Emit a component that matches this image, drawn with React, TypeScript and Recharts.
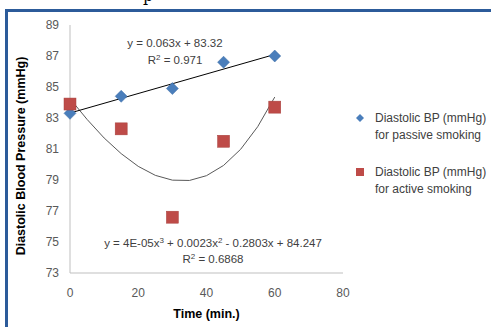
import React from 'react'
import {
  ScatterChart, Scatter, XAxis, YAxis, Label,
} from 'recharts'

const xTicks = [0, 20, 40, 60, 80]
const yTicks = [73, 75, 77, 79, 81, 83, 85, 87, 89]

const passive = [
  { x: 0, y: 83.3 },
  { x: 15, y: 84.4 },
  { x: 30, y: 84.9 },
  { x: 45, y: 86.6 },
  { x: 60, y: 87.0 },
]

const active = [
  { x: 0, y: 83.9 },
  { x: 15, y: 82.3 },
  { x: 30, y: 76.6 },
  { x: 45, y: 81.5 },
  { x: 60, y: 83.7 },
]

// trendlines
const linearTrend = [
  { x: 0, y: 83.32 },
  { x: 60, y: 87.1 },
]

const cubicTrend = [
  { x: 0, y: 84.25 }, { x: 5, y: 82.91 }, { x: 10, y: 81.71 }, { x: 15, y: 80.7 },
  { x: 20, y: 79.88 }, { x: 25, y: 79.3 }, { x: 30, y: 78.99 }, { x: 35, y: 78.97 },
  { x: 40, y: 79.28 }, { x: 45, y: 79.94 }, { x: 50, y: 80.98 }, { x: 55, y: 82.44 },
  { x: 60, y: 84.35 },
]

const BLUE = '#4a7ebb'
const RED = '#be4b48'
const FONT = '"Liberation Sans", Arial, sans-serif'

function Diamond({ cx, cy }: any) {
  const r = 6
  return <polygon points={`${cx},${cy - r} ${cx + r},${cy} ${cx},${cy + r} ${cx - r},${cy}`} fill={BLUE} stroke="#3a6aa5" strokeWidth={0.5} />
}

function Square({ cx, cy }: any) {
  const r = 6
  return <rect x={cx - r} y={cy - r} width={r * 2} height={r * 2} fill={RED} stroke="#a8403d" strokeWidth={0.5} />
}

const NoDot = () => <g />

export default function App() {
  return (
    <div style={{ position: 'absolute', left: 0, top: 0, width: 491, height: 327, background: '#fff', overflow: 'hidden', fontFamily: FONT }}>
      <svg width={491} height={12} style={{ position: 'absolute', left: 0, top: 0 }}>
        <text x={143} y={1} fontFamily="'DejaVu Serif', serif" fontSize={16} fill="#000">p</text>
      </svg>
      <div style={{ position: 'absolute', left: 5, top: 9, width: 486, height: 3, background: '#2c5b9a' }} />
      <div style={{ position: 'absolute', left: 5, top: 9, width: 3, height: 318, background: '#2c5b9a' }} />

      <ScatterChart width={491} height={327} margin={{ top: 25, right: 148, bottom: 24, left: 0 }} style={{ position: 'absolute', left: 0, top: 0 }}>
        <XAxis
          type="number" dataKey="x" domain={[0, 80]} ticks={xTicks}
          tick={{ fontSize: 12, fill: '#595959', fontFamily: FONT }}
          tickLine={false} axisLine={{ stroke: '#bfbfbf' }} tickMargin={9} height={30}
        >
          <Label value="Time (min.)" position="insideBottom" offset={-15} style={{ fontSize: 12.5, fontWeight: 'bold', fill: '#000', fontFamily: FONT }} />
        </XAxis>
        <YAxis
          type="number" dataKey="y" domain={[73, 89]} ticks={yTicks} interval={0}
          tick={{ fontSize: 12, fill: '#595959', fontFamily: FONT }}
          tickLine={false} axisLine={{ stroke: '#bfbfbf' }} tickMargin={5} width={70}
        />
        <Scatter data={cubicTrend} line={{ stroke: '#595959', strokeWidth: 1 }} lineType="joint" shape={NoDot} isAnimationActive={false} />
        <Scatter data={linearTrend} line={{ stroke: '#000', strokeWidth: 1 }} lineType="joint" shape={NoDot} isAnimationActive={false} />
        <Scatter data={passive} shape={Diamond} isAnimationActive={false} />
        <Scatter data={active} shape={Square} isAnimationActive={false} />
      </ScatterChart>

      <svg width={491} height={327} style={{ position: 'absolute', left: 0, top: 0, pointerEvents: 'none' }}>
        <text transform="translate(25,156) rotate(-90)" textAnchor="middle" fontFamily={FONT} fontSize={12.5} fontWeight="bold" fill="#000">
          Diastolic Blood Pressure (mmHg)
        </text>
        <g fontFamily={FONT} fontSize={11.5} fill="#404040" textAnchor="middle">
          <text x={175} y={47}>y = 0.063x + 83.32</text>
          <text x={175} y={64}>R<tspan fontSize={8} dy={-4}>2</tspan><tspan dy={4}> = 0.971</tspan></text>
          <text x={213} y={247}>y = 4E-05x<tspan fontSize={8} dy={-4}>3</tspan><tspan dy={4}> + 0.0023x</tspan><tspan fontSize={8} dy={-4}>2</tspan><tspan dy={4}> - 0.2803x + 84.247</tspan></text>
          <text x={213} y={263}>R<tspan fontSize={8} dy={-4}>2</tspan><tspan dy={4}> = 0.6868</tspan></text>
        </g>
        <g fontFamily={FONT} fontSize={12} fill="#404040">
          <polygon points="360,114 364,118 360,122 356,118" fill={BLUE} />
          <text x={375} y={122}>Diastolic BP (mmHg)</text>
          <text x={375} y={139}>for passive smoking</text>
          <rect x={356} y={168} width={8} height={8} fill={RED} />
          <text x={375} y={176}>Diastolic BP (mmHg)</text>
          <text x={375} y={193}>for active smoking</text>
        </g>
      </svg>
    </div>
  )
}
